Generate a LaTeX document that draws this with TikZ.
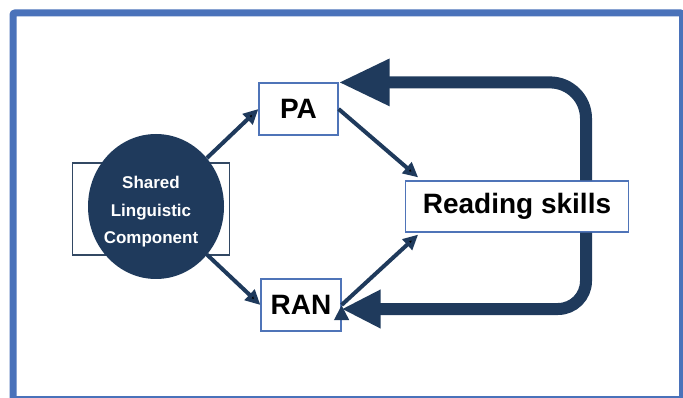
\documentclass[tikz,border=0pt]{standalone}
\usepackage{fontspec}
\setmainfont{Liberation Sans}
\usetikzlibrary{arrows.meta, positioning, shapes.geometric}

\definecolor{navy}{HTML}{1F3A5C}
\definecolor{frameblue}{HTML}{4A72BA}
\definecolor{boxblue}{HTML}{4F74B8}

\begin{document}
\begin{tikzpicture}[x=1pt, y=-1pt, >={Triangle[length=15pt, width=14pt]}]
				\tikzstyle{box} = [draw=boxblue, line width=1.2pt, fill=white, rectangle, inner sep=0pt, font=\fontsize{28}{30}\selectfont\bfseries]
				\tikzstyle{disc} = [fill=navy, ellipse, inner sep=0pt, minimum width=136pt, minimum height=145pt]
				\tikzstyle{back} = [draw=navy!80!gray, line width=1.4pt, rectangle, inner sep=0pt, minimum width=157pt, minimum height=92pt]
				\tikzstyle{disctext} = [text=white, align=center, font=\fontsize{17}{27.5}\selectfont\bfseries]
				\tikzstyle{thin} = [draw=navy, line width=4pt]
				\tikzstyle{loop} = [draw=navy, line width=12pt]
				
				\useasboundingbox (0, 0) rectangle (683, 398);
				\draw[frameblue, line width=7pt, rounded corners=2pt] (13, 13) rectangle (682.5, 399.5);
				
				\node[back] 	at (151, 209) 		(slcbox) 	{};
				\node[disc] 	at (156, 206.5) 	(slc) 		{};
				\node[disctext]	at (151, 212)		(slctext)	{Shared\\Linguistic\\Component};
				\node[box, minimum width=79pt, minimum height=52pt] 	at (298.5, 109) 	(PA) 	{PA};
				\node[box, minimum width=80pt, minimum height=52pt] 	at (301, 305) 		(RAN) 	{RAN};
				\node[box, minimum width=222.5pt, minimum height=51pt] 	at (517, 206.5) 	(rs) 	{Reading skills};
				\coordinate (loopx) at (586, 0);
				
				\path[->, thin]
				(slc)		edge	(PA.west)
				(slc)		edge	(RAN.west)
				(PA.east)	edge	([xshift=13pt, yshift=3pt]rs.north west)
				(RAN.east)	edge	([xshift=13pt, yshift=-2pt]rs.south west);
				
				% feedback loop
				\draw[loop, -{Triangle[length=51pt, width=44pt]}, rounded corners=36pt] (rs.north -| loopx) |- (PA.north east);
				\draw[loop, -{Triangle[length=39pt, width=36pt]}, rounded corners=28pt] (rs.south -| loopx) |- ([yshift=-4pt]RAN.east);
\end{tikzpicture}
\end{document}
